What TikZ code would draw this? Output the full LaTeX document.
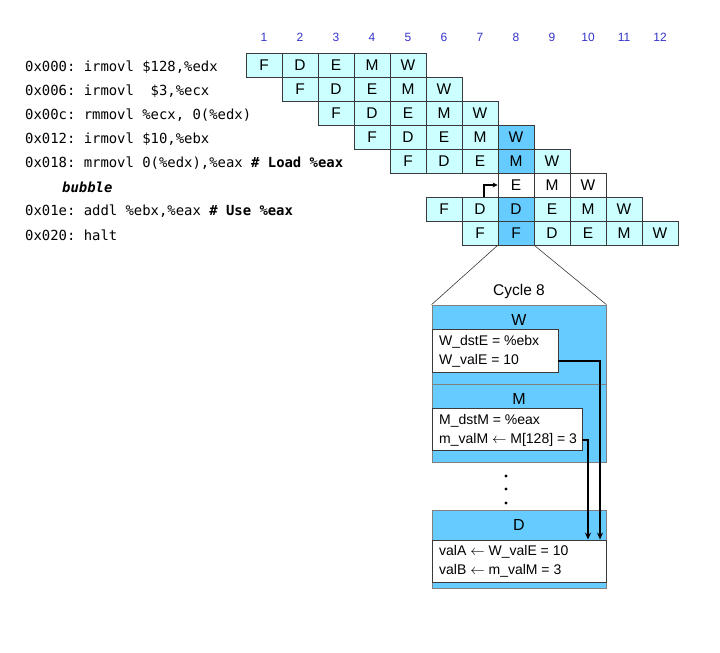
\documentclass[tikz,border=0pt]{standalone}
\usepackage{fontspec}
\setmainfont{Liberation Sans}
\setmonofont{DejaVu Sans Mono}
\usetikzlibrary{arrows.meta}
\definecolor{lcyan}{HTML}{CCFFFF}
\definecolor{dblue}{HTML}{66CCFF}
\definecolor{bord}{HTML}{3A3A3A}
\definecolor{numblue}{HTML}{3333CC}
\tikzset{
  cell/.style={draw=bord, line width=0.8pt, fill=lcyan, minimum width=36pt, minimum height=24pt, inner sep=0pt, font=\fontsize{15.5}{15.5}\selectfont},
  hot/.style={cell, fill=dblue},
  wcell/.style={cell, fill=white},
  num/.style={text=numblue, font=\fontsize{12}{12}\selectfont, inner sep=0pt},
  code/.style={anchor=west, inner sep=0pt, font=\fontsize{13.9}{13.9}\ttfamily},
  stagebox/.style={draw=gray, line width=0.8pt, fill=dblue, inner sep=0pt},
  regbox/.style={draw=bord, line width=0.8pt, fill=white, inner sep=0pt},
  regtxt/.style={anchor=west, inner sep=0pt, font=\fontsize{14}{14}\selectfont},
  stagelbl/.style={inner sep=0pt, font=\fontsize{16}{16}\selectfont},
  fwd/.style={line width=1.8pt, -{Stealth[length=7pt,width=6pt]}},
}
\begin{document}
\begin{tikzpicture}[x=1pt,y=-1pt]
\useasboundingbox (0,0) rectangle (720,653);
% cycle numbers
\foreach \k in {1,...,12}{
  \node[num] (n\k) at ({264+36*(\k-1)},37) {\k};
}
% code
\node[code] (i1) at (25,67) {0x000: irmovl \$128,\%edx};
\node[code] (i2) at (25,91) {0x006: irmovl\ \ \$3,\%ecx};
\node[code] (i3) at (25,115) {0x00c: rmmovl \%ecx, 0(\%edx)};
\node[code] (i4) at (25,139) {0x012: irmovl \$10,\%ebx};
\node[code] (i5) at (25,163) {0x018: mrmovl 0(\%edx),\%eax \textbf{\# Load \%eax}};
\node[code] (i6) at (62,187) {\textbf{\textit{bubble}}};
\node[code] (i7) at (25,211) {0x01e: addl \%ebx,\%eax \textbf{\# Use \%eax}};
\node[code] (i8) at (25,235) {0x020: halt};
% pipeline cells
\newcommand{\cellat}[4]{\node[#1] (c#2-#3) at ({264+36*(#3-1)},{65+24*(#2-1)}) {#4};}
\cellat{cell}{1}{1}{F}\cellat{cell}{1}{2}{D}\cellat{cell}{1}{3}{E}\cellat{cell}{1}{4}{M}\cellat{cell}{1}{5}{W}
\cellat{cell}{2}{2}{F}\cellat{cell}{2}{3}{D}\cellat{cell}{2}{4}{E}\cellat{cell}{2}{5}{M}\cellat{cell}{2}{6}{W}
\cellat{cell}{3}{3}{F}\cellat{cell}{3}{4}{D}\cellat{cell}{3}{5}{E}\cellat{cell}{3}{6}{M}\cellat{cell}{3}{7}{W}
\cellat{cell}{4}{4}{F}\cellat{cell}{4}{5}{D}\cellat{cell}{4}{6}{E}\cellat{cell}{4}{7}{M}\cellat{hot}{4}{8}{W}
\cellat{cell}{5}{5}{F}\cellat{cell}{5}{6}{D}\cellat{cell}{5}{7}{E}\cellat{hot}{5}{8}{M}\cellat{cell}{5}{9}{W}
\cellat{wcell}{6}{8}{E}\cellat{wcell}{6}{9}{M}\cellat{wcell}{6}{10}{W}
\cellat{cell}{7}{6}{F}\cellat{cell}{7}{7}{D}\cellat{hot}{7}{8}{D}\cellat{cell}{7}{9}{E}\cellat{cell}{7}{10}{M}\cellat{cell}{7}{11}{W}
\cellat{cell}{8}{7}{F}\cellat{hot}{8}{8}{F}\cellat{cell}{8}{9}{D}\cellat{cell}{8}{10}{E}\cellat{cell}{8}{11}{M}\cellat{cell}{8}{12}{W}
% bubble arrow
\coordinate (bk) at ([xshift=4pt]c7-7.north);
\draw[line width=1.8pt, -{Stealth[length=5pt,width=5pt]}] (bk) |- (c6-8.west);
% cycle 8 detail
\node[font=\fontsize{15.5}{15.5}\selectfont, inner sep=0pt] (cyc) at (519,291) {Cycle 8};
\node[stagebox, minimum width=174pt, minimum height=79pt] (W) at (519,344.5) {};
\node[stagebox, minimum width=174pt, minimum height=78pt] (M) at (519,423) {};
\node[stagebox, minimum width=174pt, minimum height=78pt] (D) at (519,549) {};
\draw[bord, line width=0.6pt] (c8-8.south west) -- (W.north west);
\draw[bord, line width=0.6pt] (c8-8.south east) -- (W.north east);
\node[stagelbl] (Wl) at (519,320) {W};
\node[stagelbl] (Ml) at (519,399) {M};
\node[stagelbl] (Dl) at (519,525) {D};
\node[regbox, minimum width=126pt, minimum height=43pt] (Wr) at (495,350.5) {};
\node[regbox, minimum width=150pt, minimum height=42pt] (Mr) at (507,429) {};
\node[regbox, minimum width=174pt, minimum height=42pt] (Dr) at (519,561) {};
\node[regtxt] (w1) at (439,342) {W\_dstE = \%ebx};
\node[regtxt] (w2) at (439,361) {W\_valE = 10};
\node[regtxt] (m1) at (439,421) {M\_dstM = \%eax};
\node[regtxt] (m2) at (439,440) {m\_valM $\leftarrow$ M[128] = 3};
\node[regtxt] (d1) at (439,552) {valA $\leftarrow$ W\_valE = 10};
\node[regtxt] (d2) at (439,571) {valB $\leftarrow$ m\_valM = 3};
% dots
\foreach \y/\n in {476/a,489/b,503/c}{\fill (506,\y) circle (1.6pt) coordinate (dot\n);}
% forwarding arrows
\coordinate (wo) at (Wr.east |- w2);
\coordinate (mo) at (Mr.east |- m2);
\coordinate (wt) at (600,0);
\coordinate (mt) at (588,0);
\draw[fwd] (wo) -| (wt |- Dr.north);
\draw[fwd] (mo) -| (mt |- Dr.north);
\end{tikzpicture}
\end{document}
